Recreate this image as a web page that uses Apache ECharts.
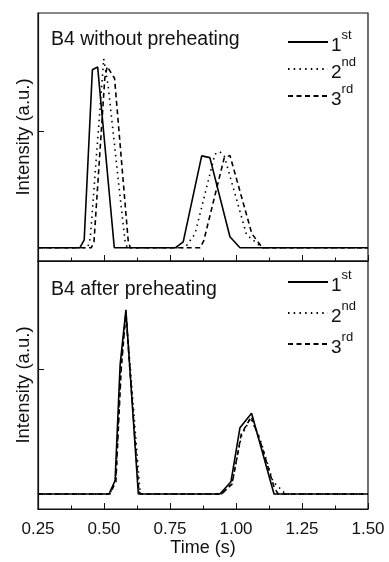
<!DOCTYPE html>
<html>
<head>
<meta charset="utf-8">
<script src="https://cdn.jsdelivr.net/npm/echarts@6/dist/echarts.min.js"></script>
<style>
html,body{margin:0;padding:0;background:#fff;}
#chart{width:389px;height:562px;}
</style>
</head>
<body>
<div id="chart"></div>
<script>
// ---- data (time in s, intensity in a.u.) ----
const xTicks = [0.25, 0.50, 0.75, 1.00, 1.25, 1.50];
const runNames = ['1st', '2nd', '3rd'];
const panelTitles = ['B4 without preheating', 'B4 after preheating'];

// top panel: B4 without preheating
const topRun1 = [[0.25,0],[0.409,0],[0.425,0.066],[0.456,1.523],[0.476,1.546],[0.539,0],[0.771,0],[0.800,0.05],[0.870,0.786],[0.901,0.771],[0.977,0.094],[1.015,0],[1.5,0]];
const topRun2 = [[0.25,0],[0.438,0],[0.448,0.08],[0.499,1.617],[0.516,1.38],[0.554,0.58],[0.580,0.05],[0.588,0],[0.807,0],[0.845,0.12],[0.920,0.80],[0.937,0.823],[0.955,0.79],[1.040,0.11],[1.100,0],[1.5,0]];
const topRun3 = [[0.25,0],[0.452,0],[0.462,0.05],[0.503,1.45],[0.512,1.55],[0.540,1.45],[0.592,0.05],[0.600,0],[0.864,0],[0.878,0.06],[0.955,0.766],[0.977,0.79],[1.060,0.12],[1.100,0],[1.5,0]];

// bottom panel: B4 after preheating
const botRun1 = [[0.25,0],[0.519,0],[0.542,0.107],[0.561,1.035],[0.583,1.476],[0.630,0],[0.939,0],[0.981,0.099],[1.015,0.532],[1.059,0.647],[1.144,0],[1.5,0]];
const botRun2 = [[0.25,0],[0.522,0],[0.545,0.12],[0.563,1.0],[0.583,1.44],[0.600,1.0],[0.636,0.03],[0.645,0],[0.945,0],[0.985,0.09],[1.020,0.46],[1.055,0.61],[1.090,0.45],[1.140,0.10],[1.179,0.02],[1.185,0],[1.5,0]];
const botRun3 = [[0.25,0],[0.522,0],[0.545,0.10],[0.565,1.0],[0.583,1.45],[0.598,1.0],[0.632,0.02],[0.640,0],[0.945,0],[0.985,0.08],[1.020,0.48],[1.058,0.62],[1.095,0.40],[1.145,0.05],[1.160,0],[1.5,0]];

const yTickValues = [1];

// ---- styling ----
const FONT = "'Liberation Sans', Arial, Helvetica, sans-serif";
const INK = '#111';
const lineTypes = ['solid', [1.5, 4.2], [5, 3.5]];

const chart = echarts.init(document.getElementById('chart'), null, {renderer: 'canvas'});

function xAxis(gridIndex, showLabels) {
  return {
    type: 'value', gridIndex, min: 0.25, max: 1.5, interval: 0.25,
    axisLine: {show: true, onZero: false, lineStyle: {color: INK, width: 1.2}},
    axisTick: {show: true, inside: true, length: 6, lineStyle: {color: INK, width: 1}},
    minorTick: {show: true, splitNumber: 2, length: 3.5, lineStyle: {color: INK, width: 1}},
    splitLine: {show: false},
    axisLabel: {show: showLabels, color: INK, fontSize: 17, fontFamily: FONT, margin: 12,
      formatter: v => v.toFixed(2)},
    name: showLabels ? 'Time (s)' : '',
    nameLocation: 'middle', nameGap: 30,
    nameTextStyle: {color: INK, fontSize: 18, fontFamily: FONT}
  };
}
function yAxis(gridIndex, min, max) {
  return {
    type: 'value', gridIndex, min, max,
    axisLine: {show: true, onZero: false, lineStyle: {color: INK, width: 1.2}},
    axisTick: {show: true, inside: true, length: 6, customValues: yTickValues, lineStyle: {color: INK, width: 1}},
    axisLabel: {show: false, customValues: yTickValues},
    splitLine: {show: false},
    name: 'Intensity (a.u.)', nameLocation: 'middle', nameRotate: 90, nameGap: 5,
    nameTextStyle: {color: INK, fontSize: 18.5, fontFamily: FONT}
  };
}
function runSeries(name, data, idx, k) {
  return {
    type: 'line', name, data, xAxisIndex: idx, yAxisIndex: idx,
    symbol: 'none', showSymbol: false, silent: true,
    lineStyle: {color: '#000', width: 1.6, type: lineTypes[k]},
    itemStyle: {color: '#000'}
  };
}
function legend(top, gap) {
  return {
    orient: 'vertical', left: 287, top, itemGap: gap, padding: 0,
    itemWidth: 40, itemHeight: 14, data: runNames,
    selectedMode: false,
    itemStyle: {opacity: 0},
    formatter: n => '{n|' + n.charAt(0) + '}{s|' + n.slice(1) + '}',
    textStyle: {
      color: INK, fontFamily: FONT, padding: [0, 0, 0, -2],
      rich: {
        n: {fontSize: 19, fontFamily: FONT, color: INK, lineHeight: 26, verticalAlign: 'bottom'},
        s: {fontSize: 13, fontFamily: FONT, color: INK, lineHeight: 12, verticalAlign: 'top'}
      }
    }
  };
}

const option = {
  animation: false,
  backgroundColor: '#fff',
  title: [
    {text: panelTitles[0], left: 51, top: 30, padding: 0, textStyle: {color: INK, fontSize: 19.5, fontWeight: 'normal', fontFamily: FONT}},
    {text: panelTitles[1], left: 51, top: 280, padding: 0, textStyle: {color: INK, fontSize: 19.5, fontWeight: 'normal', fontFamily: FONT}}
  ],
  legend: [legend(29, 1), legend(269, 5)],
  grid: [
    {left: 38, right: 21, top: 13, height: 248, show: true, borderColor: INK, borderWidth: 1.2, backgroundColor: 'transparent'},
    {left: 38, right: 21, top: 261, height: 248, show: true, borderColor: INK, borderWidth: 1.2, backgroundColor: 'transparent'}
  ],
  xAxis: [xAxis(0, false), xAxis(1, true)],
  yAxis: [yAxis(0, -0.114, 2.009), yAxis(1, -0.12, 1.868)],
  series: [
    runSeries(runNames[0], topRun1, 0, 0),
    runSeries(runNames[1], topRun2, 0, 1),
    runSeries(runNames[2], topRun3, 0, 2),
    runSeries(runNames[0], botRun1, 1, 0),
    runSeries(runNames[1], botRun2, 1, 1),
    runSeries(runNames[2], botRun3, 1, 2)
  ]
};
chart.setOption(option);
</script>
</body>
</html>
